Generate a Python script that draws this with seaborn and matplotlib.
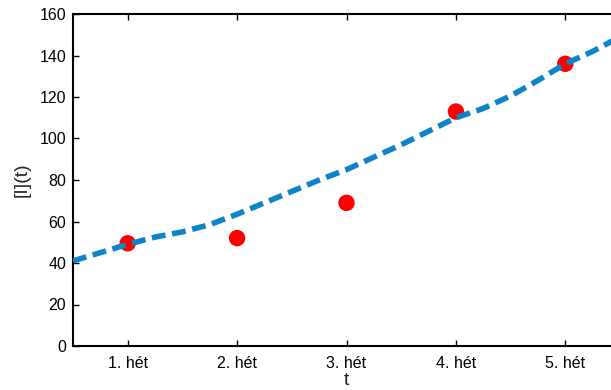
import numpy as np
import pandas as pd
import matplotlib
matplotlib.use("Agg")
import matplotlib.pyplot as plt
import seaborn as sns

# mért pontok (hetek)
het = [1, 2, 3, 4, 5]
mert = [49.5, 52, 69, 113, 136]
het_cimkek = ["1. hét", "2. hét", "3. hét", "4. hét", "5. hét"]

# illesztett görbe
t_gorbe = [0.5, 0.75, 1, 1.25, 1.5, 1.75, 2, 2.25, 2.5, 2.75, 3,
           3.25, 3.5, 3.75, 4, 4.25, 4.5, 4.75, 5, 5.25, 5.5]
i_gorbe = [41, 45, 49, 52.5, 55, 58.5, 63.5, 69, 74.5, 80, 85,
           91, 97, 103.5, 110, 114.5, 120.5, 128, 136, 142, 149]

df_pont = pd.DataFrame({"t": het, "I": mert})
df_gorbe = pd.DataFrame({"t": t_gorbe, "I": i_gorbe})

sns.set_style("ticks")
plt.rcParams['font.family'] = ['Liberation Sans', 'DejaVu Sans']

fig = plt.figure(figsize=(6.11, 3.9), dpi=100)
ax = fig.add_axes([73 / 611, 44 / 390, 547 / 611, 332 / 390])

sns.scatterplot(data=df_pont, x="t", y="I", ax=ax, color="#ff0000",
                s=140, edgecolor="none", zorder=2)
sns.lineplot(data=df_gorbe, x="t", y="I", ax=ax, color="#0d84c9",
             linewidth=4, dashes=False, zorder=3)
ax.lines[-1].set_dashes((2.5, 1.2))

ax.set_xlim(0.5, 5.5)
ax.set_ylim(0, 160)
ax.set_xticks(het)
ax.set_xticklabels(het_cimkek)
ax.set_yticks(range(0, 161, 20))
ax.tick_params(direction="in", length=4, width=1, labelsize=11.5,
               top=True, right=True, colors="black", pad=5)
ax.tick_params(axis="x", pad=7)
ax.set_xlabel("t", fontsize=14, labelpad=1)
ax.set_ylabel("[I](t)", fontsize=14, labelpad=6)
for s in ax.spines.values():
    s.set_linewidth(1.5)
    s.set_color("black")

fig.savefig("out.png", dpi=100)
